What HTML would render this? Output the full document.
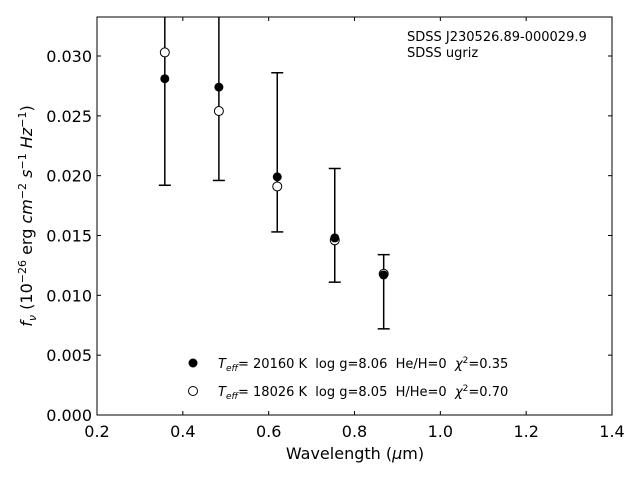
<!DOCTYPE html>
<html><head><meta charset="utf-8"><style>
body{margin:0;background:#fff;}
svg text{font-family:"DejaVu Sans","Liberation Sans",sans-serif;white-space:pre;}
</style></head><body>
<svg id="c" width="640" height="480" xmlns="http://www.w3.org/2000/svg"></svg>
<script>
const wavelengths=[0.358,0.484,0.620,0.754,0.868];
const fluxFilled=[0.0281,0.0274,0.0199,0.0148,0.0117];
const fluxOpen=[0.0303,0.0254,0.0191,0.0146,0.0118];
const errLow=[0.0192,0.0196,0.0153,0.0111,0.0072];
const errHigh=[0.037,0.0352,0.0286,0.0206,0.0134];
const xTicks=[0.2,0.4,0.6,0.8,1.0,1.2,1.4];
const yTicks=[0,0.005,0.010,0.015,0.020,0.025,0.030];
const L=97,R=612,T=17,B=415,x0=0.2,x1=1.4,y0=0,y1=0.03326;
const X=v=>L+(v-x0)/(x1-x0)*(R-L);
const Y=v=>B-(v-y0)/(y1-y0)*(B-T);
const s=document.getElementById('c');const NS='http://www.w3.org/2000/svg';
function el(t,a,p){const e=document.createElementNS(NS,t);for(const k in a)e.setAttribute(k,a[k]);(p||s).appendChild(e);return e;}
const defs=el('defs',{});const cp=el('clipPath',{id:'cl'},defs);el('rect',{x:L,y:T,width:R-L,height:B-T},cp);
const g=el('g',{'clip-path':'url(#cl)'});
wavelengths.forEach((w,i)=>{
 const eb=el('g',{stroke:'#000','stroke-width':1.5},g);
 
 
 el('line',{x1:X(w),x2:X(w),y1:Y(errLow[i]),y2:Y(errHigh[i])},eb);
 el('line',{x1:X(w)-6,x2:X(w)+6,y1:Y(errLow[i]),y2:Y(errLow[i])},eb);
 el('line',{x1:X(w)-6,x2:X(w)+6,y1:Y(errHigh[i]),y2:Y(errHigh[i])},eb);
});
wavelengths.forEach((w,i)=>{
 const o=el('circle',{cx:X(w),cy:Y(fluxOpen[i]),r:4.5,fill:'#fff',stroke:'#000','stroke-width':1},g);
 
 
 const f=el('circle',{cx:X(w),cy:Y(fluxFilled[i]),r:4.5,fill:'#000'},g);
 
 
});
const fr=el('rect',{x:L,y:T,width:R-L,height:B-T,fill:'none',stroke:'#000','stroke-width':1});

xTicks.forEach(v=>{
 el('line',{x1:X(v),x2:X(v),y1:B,y2:B-4,stroke:'#000'});
 el('line',{x1:X(v),x2:X(v),y1:T,y2:T+4,stroke:'#000'});
 const t=el('text',{x:X(v),y:B+22,'text-anchor':'middle','font-size':16});t.textContent=v.toFixed(1);
 
});
yTicks.forEach(v=>{
 el('line',{x1:L,x2:L+4,y1:Y(v),y2:Y(v),stroke:'#000'});
 el('line',{x1:R,x2:R-4,y1:Y(v),y2:Y(v),stroke:'#000'});
 const t=el('text',{x:L-5,y:Y(v)+6,'text-anchor':'end','font-size':16});t.textContent=v.toFixed(3);
 
});
</script>
<svg width="640" height="480" style="position:absolute;left:0;top:0" xmlns="http://www.w3.org/2000/svg">
<text x="355" y="459" text-anchor="middle" font-size="16" font-family="DejaVu Sans,Liberation Sans,sans-serif">Wavelength (<tspan font-style="italic">μ</tspan>m)</text>
<text transform="translate(32,216) rotate(-90)" text-anchor="middle" font-size="16" font-family="DejaVu Sans,Liberation Sans,sans-serif"><tspan font-style="italic">f</tspan><tspan font-style="italic" font-size="11" dy="4">ν</tspan><tspan dy="-4"> (10</tspan><tspan font-size="11" dy="-6">−26</tspan><tspan dy="6"> erg </tspan><tspan font-style="italic">cm</tspan><tspan font-size="11" dy="-6">−2</tspan><tspan dy="6"> </tspan><tspan font-style="italic">s</tspan><tspan font-size="11" dy="-6">−1</tspan><tspan dy="6"> </tspan><tspan font-style="italic">Hz</tspan><tspan font-size="11" dy="-6">−1</tspan><tspan dy="6">)</tspan></text>
<g font-size="13" font-family="DejaVu Sans,Liberation Sans,sans-serif">
<text x="407" y="41">SDSS J230526.89-000029.9</text>
<text x="407" y="57">SDSS ugriz</text>
</g>
<g font-size="13" font-family="DejaVu Sans,Liberation Sans,sans-serif">
<circle cx="193" cy="363" r="4.5" fill="#000"/>
<text x="218" y="368"><tspan font-style="italic">T</tspan><tspan font-style="italic" font-size="9" dy="3">eff</tspan><tspan dy="-3">= 20160 K  log g=8.06  He/H=0  </tspan><tspan font-style="italic">χ</tspan><tspan font-size="9" dy="-5">2</tspan><tspan dy="5">=0.35</tspan></text>
<circle cx="193" cy="391" r="4.5" fill="#fff" stroke="#000"/>
<text x="218" y="396"><tspan font-style="italic">T</tspan><tspan font-style="italic" font-size="9" dy="3">eff</tspan><tspan dy="-3">= 18026 K  log g=8.05  H/He=0  </tspan><tspan font-style="italic">χ</tspan><tspan font-size="9" dy="-5">2</tspan><tspan dy="5">=0.70</tspan></text>
</g>
</svg>
</body></html>
